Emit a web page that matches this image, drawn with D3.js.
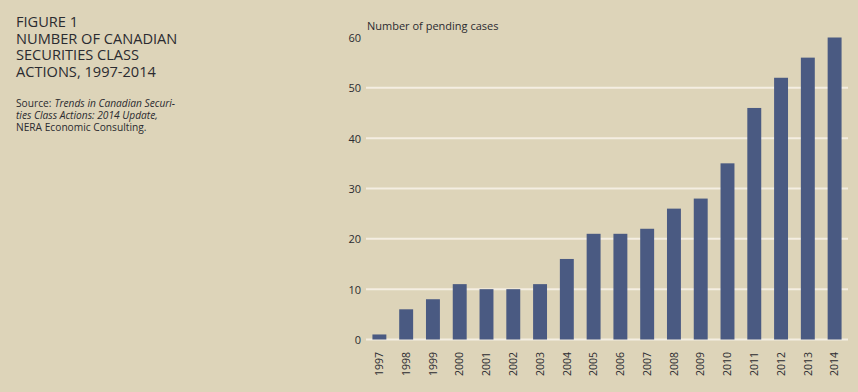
<!DOCTYPE html>
<html><head><meta charset="utf-8">
<script src="https://cdn.jsdelivr.net/npm/d3@7"></script>
<style>
html,body{margin:0;padding:0;background:#ddd4b9;}
svg{display:block;}
text{font-family:"Open Sans","Noto Sans",sans-serif;fill:#2b2b30;}
</style></head>
<body>
<svg id="c" width="858" height="392"></svg>
<script>
const years = ["1997","1998","1999","2000","2001","2002","2003","2004","2005","2006","2007","2008","2009","2010","2011","2012","2013","2014"];
const pendingCases = [1,6,8,11,10,10,11,16,21,21,22,26,28,35,46,52,56,60];
const yTicks = [0,10,20,30,40,50,60];
const titleLines = ["FIGURE 1","NUMBER OF CANADIAN","SECURITIES CLASS","ACTIONS, 1997-2014"];

const svg = d3.select("#c");
svg.append("rect").attr("width",858).attr("height",392).attr("fill","#ddd4b9");

// Title
titleLines.forEach((l,i)=>svg.append("text").attr("x",16).attr("y",27+i*16.5).attr("font-size",14.6).text(l));

// Source
const src = svg.append("text").attr("x",16).attr("y",107).attr("font-size",10.2).text("Source:");
const sw = src.node().getComputedTextLength();
svg.append("text").attr("x",16+sw+3).attr("y",107).attr("font-size",10.2).attr("font-style","italic").text("Trends in Canadian Securi-");
svg.append("text").attr("x",16).attr("y",119).attr("font-size",10.2).attr("font-style","italic").text("ties Class Actions: 2014 Update,");
svg.append("text").attr("x",16).attr("y",131).attr("font-size",10.2).text("NERA Economic Consulting.");

const x = d3.scaleBand().domain(years).range([366,848]).paddingInner(0.48).paddingOuter(0.24);
const y = d3.scaleLinear().domain([0,60]).range([339.5,37.5]);

// gridlines
svg.append("g").selectAll("line").data(yTicks.filter(d=>d<60)).join("line")
  .attr("x1",366).attr("x2",848)
  .attr("y1",d=>y(d)).attr("y2",d=>y(d))
  .attr("stroke","#f4eee2").attr("stroke-width",2);

// y axis labels
const yAxis = d3.axisLeft(y).tickValues(yTicks).tickSize(0).tickPadding(0);
const ya = svg.append("g").attr("transform","translate(361,0)").call(yAxis);
ya.select(".domain").remove();
ya.selectAll("text").attr("font-size",11).attr("font-family","'Open Sans','Noto Sans',sans-serif").attr("fill","#2b2b30").attr("dy","0.35em");

svg.append("text").attr("x",367).attr("y",30).attr("font-size",11).text("Number of pending cases");

// bars
svg.append("g").selectAll("rect").data(years).join("rect")
  .attr("x",d=>x(d)).attr("width",x.bandwidth())
  .attr("y",(d,i)=>y(pendingCases[i]))
  .attr("height",(d,i)=>y(0)-y(pendingCases[i]))
  .attr("fill","#4a5a82");

// x axis labels
const xAxis = d3.axisBottom(x).tickSize(0).tickPadding(0);
const xa = svg.append("g").attr("transform","translate(0,352)").call(xAxis);
xa.select(".domain").remove();
xa.selectAll("text")
  .attr("font-size",10.5).attr("font-family","'Open Sans','Noto Sans',sans-serif").attr("fill","#2b2b30")
  .attr("text-anchor","end").attr("transform","rotate(-90)")
  .attr("x",0).attr("y",0).attr("dy","0.35em");
</script>
</body></html>
